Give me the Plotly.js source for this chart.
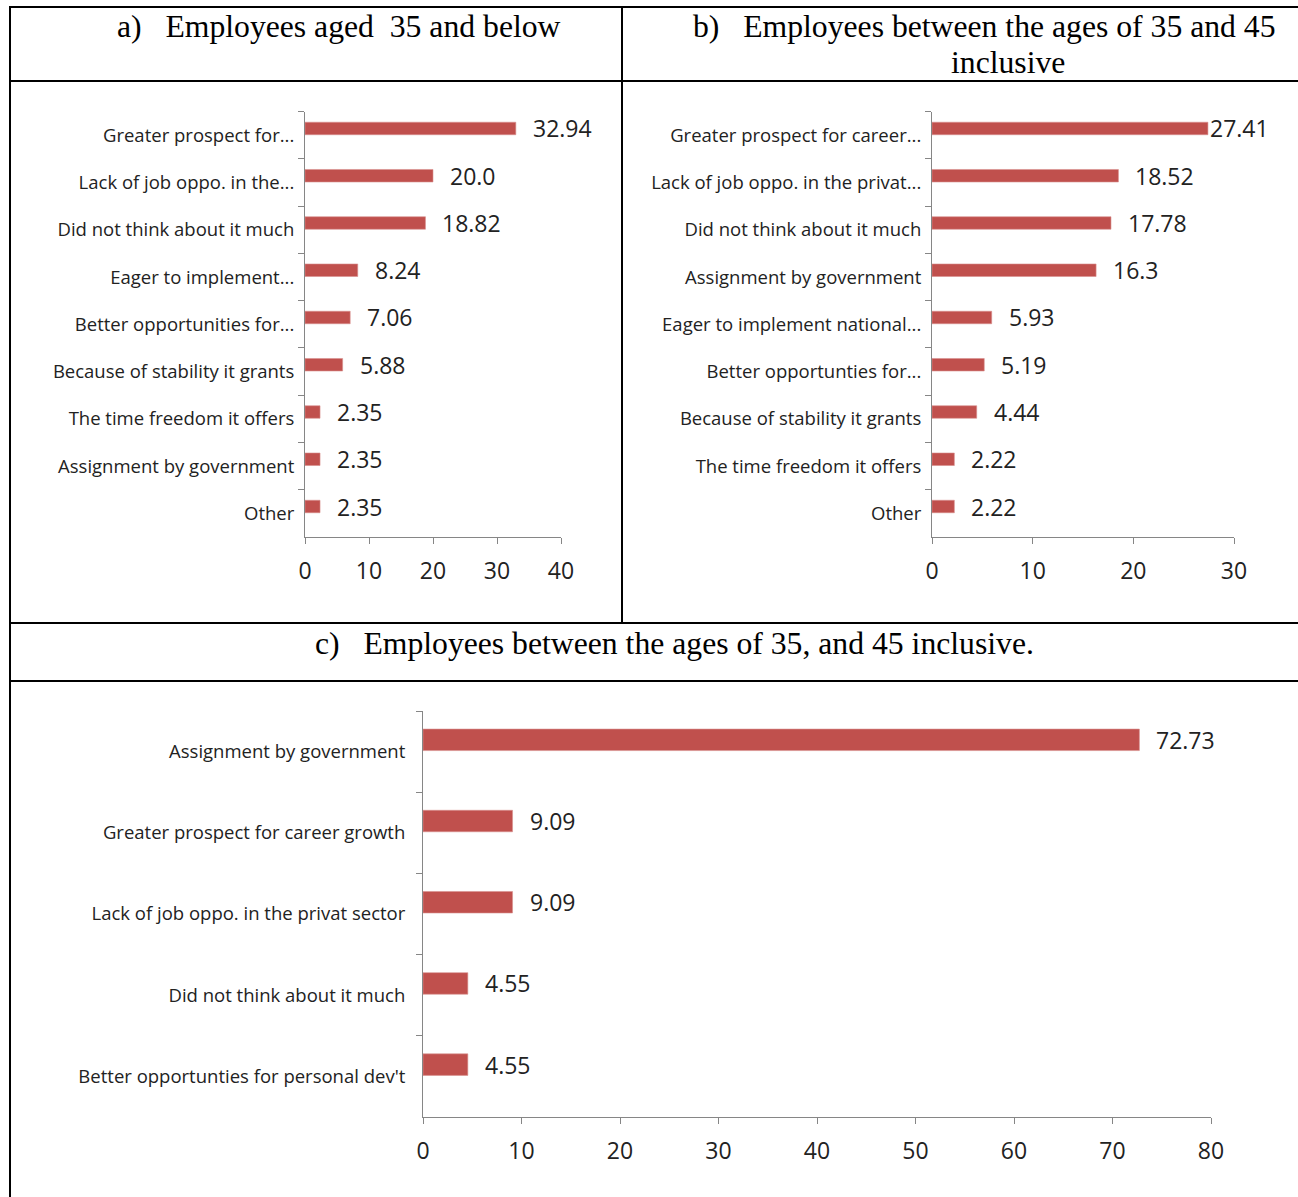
<!DOCTYPE html>
<html>
<head>
<meta charset="utf-8">
<script src="https://cdn.plot.ly/plotly-3.0.1.min.js"></script>
<style>html,body{margin:0;padding:0;background:#fff;}#chart{width:1298px;height:1197px;}</style>
</head>
<body>
<div id="chart"></div>
<script>
// ---- Data ----
const catsA = ["Greater prospect for...", "Lack of job oppo. in the...", "Did not think about it much", "Eager to implement...", "Better opportunities for...", "Because of stability it grants", "The time freedom it offers", "Assignment by government", "Other"];
const valsA = [32.94, 20.0, 18.82, 8.24, 7.06, 5.88, 2.35, 2.35, 2.35];
const textA = ["32.94", "20.0", "18.82", "8.24", "7.06", "5.88", "2.35", "2.35", "2.35"];

const catsB = ["Greater prospect for career...", "Lack of job oppo. in the privat...", "Did not think about it much", "Assignment by government", "Eager to implement national...", "Better opportunties for...", "Because of stability it grants", "The time freedom it offers", "Other"];
const valsB = [27.41, 18.52, 17.78, 16.3, 5.93, 5.19, 4.44, 2.22, 2.22];
const textB = ["27.41", "18.52", "17.78", "16.3", "5.93", "5.19", "4.44", "2.22", "2.22"];

const catsC = ["Assignment by government", "Greater prospect for career growth", "Lack of job oppo. in the privat sector", "Did not think about it much", "Better opportunties for personal dev't"];
const valsC = [72.73, 9.09, 9.09, 4.55, 4.55];
const textC = ["72.73", "9.09", "9.09", "4.55", "4.55"];

const titleA = "a)\u00A0\u00A0 Employees aged\u00A0 35 and below";
const titleB1 = "b)\u00A0\u00A0 Employees between the ages of 35 and 45";
const titleB2 = "inclusive";
const titleC = "c)\u00A0\u00A0 Employees between the ages of 35, and 45 inclusive.";

// ---- Layout helpers ----
const W = 1298, H = 1197;
const px = x => x / W;
const py = y => 1 - y / H;

const BAR = "#C0504D";
const AX = "#868686";
const LBL = "Open Sans, Lato, sans-serif";
const BAR_W = 0.265;      // bar thickness (fraction of category)
const BAR_SHIFT = 0.145;  // bars sit slightly above category centre (as in source)

// panel geometry (pixels)
const P = {
  a: {x0: 305, x1: 561, y0: 111.7, y1: 537, max: 40},
  b: {x0: 932, x1: 1234, y0: 111.7, y1: 537, max: 30},
  c: {x0: 423, x1: 1211, y0: 711, y1: 1117, max: 80}
};

function barTrace(cats, vals, xa, ya) {
  return {
    type: "bar", orientation: "h", x: vals, y: cats,
    xaxis: xa, yaxis: ya,
    width: BAR_W, offset: -BAR_SHIFT - BAR_W / 2,
    marker: {color: BAR, line: {color: "#D8908E", width: 0.6}},
    hoverinfo: "skip", showlegend: false
  };
}

const data = [
  barTrace(catsA, valsA, "x", "y"),
  barTrace(catsB, valsB, "x2", "y2"),
  barTrace(catsC, valsC, "x3", "y3")
];

function xAxis(p, anchor) {
  return {
    domain: [px(p.x0), px(p.x1)], range: [0, p.max], dtick: 10, anchor: anchor,
    showgrid: false, zeroline: false, showline: true, linecolor: AX, linewidth: 1,
    ticks: "outside", ticklen: 6, tickcolor: AX, tickwidth: 1,
    ticklabelstandoff: 7,
    tickfont: {family: LBL, size: 23, color: "#222"}, fixedrange: true
  };
}
function yAxis(p, n, anchor, standoff) {
  return {
    domain: [py(p.y1), py(p.y0)], type: "category", range: [n - 0.5, -0.5], anchor: anchor,
    showgrid: false, zeroline: false, showline: true, linecolor: AX, linewidth: 1,
    ticks: "outside", ticklen: 6, tickcolor: AX, tickwidth: 1, tickson: "boundaries",
    ticklabelstandoff: standoff,
    tickfont: {family: LBL, size: 18.5, color: "#222"}, fixedrange: true
  };
}

const annotations = [];
function valueLabels(cats, vals, texts, xr, yr, p) {
  const catPx = (p.y1 - p.y0) / cats.length;
  const axPx = p.x1 - p.x0;
  for (let i = 0; i < vals.length; i++) {
    const room = (1 - vals[i] / p.max) * axPx;
    annotations.push({
      x: vals[i], y: cats[i], xref: xr, yref: yr,
      text: texts[i], showarrow: false, xanchor: "left", yanchor: "middle",
      xshift: room < 40 ? 0 : 15,
      yshift: BAR_SHIFT * catPx,
      font: {family: LBL, size: 23, color: "#222"}
    });
  }
}
valueLabels(catsA, valsA, textA, "x", "y", P.a);
valueLabels(catsB, valsB, textB, "x2", "y2", P.b);
valueLabels(catsC, valsC, textC, "x3", "y3", P.c);

const TF = {family: "Liberation Serif, Times New Roman, serif", size: 31.7, color: "#000"};
annotations.push({xref: "paper", yref: "paper", x: px(115), y: py(27), xanchor: "left", yanchor: "middle", text: titleA, showarrow: false, font: TF});
annotations.push({xref: "paper", yref: "paper", x: px(691), y: py(27), xanchor: "left", yanchor: "middle", text: titleB1, showarrow: false, font: TF});
annotations.push({xref: "paper", yref: "paper", x: px(1008), y: py(63), xanchor: "center", yanchor: "middle", text: titleB2, showarrow: false, font: TF});
annotations.push({xref: "paper", yref: "paper", x: px(313), y: py(643), xanchor: "left", yanchor: "middle", text: titleC, showarrow: false, font: TF});

const lineStyle = {color: "#000", width: 2};
function seg(x0, y0, x1, y1) {
  return {type: "line", xref: "paper", yref: "paper", x0: px(x0), y0: py(y0), x1: px(x1), y1: py(y1), line: lineStyle};
}
const shapes = [
  seg(9, 7, W, 7),
  seg(9, 81, W, 81),
  seg(9, 623, W, 623),
  seg(9, 681, W, 681),
  seg(10, 7, 10, H),
  seg(622, 7, 622, 623)
];

const layout = {
  width: W, height: H,
  margin: {l: 0, r: 0, t: 0, b: 0},
  paper_bgcolor: "#fff", plot_bgcolor: "#fff",
  showlegend: false, hovermode: false,
  xaxis: xAxis(P.a, "y"),
  yaxis: yAxis(P.a, catsA.length, "x", 6),
  xaxis2: xAxis(P.b, "y2"),
  yaxis2: yAxis(P.b, catsB.length, "x2", 6),
  xaxis3: xAxis(P.c, "y3"),
  yaxis3: yAxis(P.c, catsC.length, "x3", 13),
  annotations: annotations,
  shapes: shapes
};

Plotly.newPlot("chart", data, layout, {displayModeBar: false, staticPlot: true});
</script>
</body>
</html>
